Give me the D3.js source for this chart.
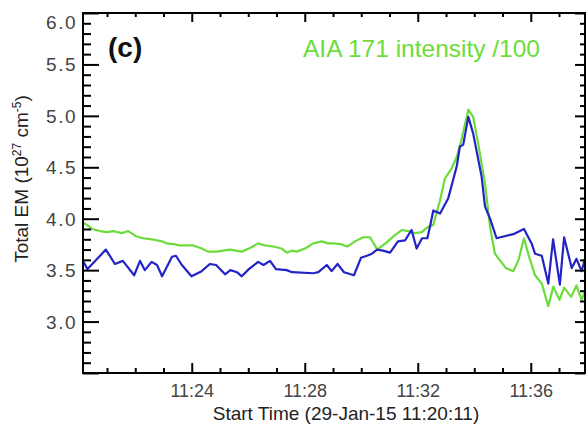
<!DOCTYPE html>
<html>
<head>
<meta charset="utf-8">
<script src="https://cdn.jsdelivr.net/npm/d3@7"></script>
<style>
  body { margin: 0; background: #fff; }
  svg { display: block; font-family: "Liberation Sans", Arial, Helvetica, sans-serif; }
  .axis path.domain { display: none; }
  .axis line { stroke: #000; stroke-width: 2; }
  .axis text { fill: #444; font-size: 18px; }
  .y-labels text { font-size: 19px; letter-spacing: 1.5px; }
</style>
</head>
<body>
<div id="chart"></div>
<script>
// Time in minutes after 11:20:00, values in 10^27 cm^-5
const emTime = [0.17, 0.31, 0.96, 1.28, 1.56, 1.96, 2.17, 2.34, 2.58, 2.77, 2.95, 3.30, 3.44, 3.65, 3.99,
  4.35, 4.64, 4.86, 5.18, 5.37, 5.60, 5.77, 6.02, 6.35, 6.54, 6.77, 6.98, 7.36, 7.55, 8.30, 8.48, 8.78,
  8.95, 9.16, 9.39, 9.74, 9.99, 10.20, 10.38, 10.56, 10.77, 11.02, 11.30, 11.55, 11.78, 11.96, 12.15,
  12.34, 12.43, 12.55, 12.79, 13.08, 13.38, 13.49, 13.61, 13.79, 13.96, 14.26, 14.38, 14.56, 14.79,
  15.38, 15.76, 16.03, 16.15, 16.39, 16.62, 16.79, 17.03, 17.18, 17.45, 17.62, 17.80, 17.92];
const emValues = [3.58, 3.51, 3.70, 3.56, 3.59, 3.45, 3.59, 3.50, 3.58, 3.55, 3.44, 3.63, 3.64, 3.55, 3.44,
  3.49, 3.56, 3.55, 3.46, 3.50, 3.48, 3.44, 3.51, 3.58, 3.55, 3.59, 3.51, 3.50, 3.48, 3.47, 3.48, 3.55,
  3.49, 3.56, 3.48, 3.45, 3.62, 3.64, 3.66, 3.70, 3.69, 3.67, 3.78, 3.79, 3.89, 3.71, 3.81,
  3.81, 3.92, 4.08, 4.05, 4.20, 4.51, 4.70, 4.72, 4.99, 4.83, 4.41, 4.12, 4.00, 3.81,
  3.85, 3.90, 3.76, 3.66, 3.64, 3.37, 3.80, 3.36, 3.82, 3.52, 3.61, 3.49, 3.61];

const aiaTime = [0.17, 0.34, 0.47, 0.75, 0.99, 1.22, 1.52, 1.75, 2.02, 2.28, 2.58, 2.95, 3.12, 3.41, 3.58,
  4.05, 4.35, 4.58, 4.88, 5.35, 5.77, 6.10, 6.35, 6.59, 6.88, 7.18, 7.37, 7.55, 7.72, 8.01, 8.30, 8.60,
  8.83, 9.03, 9.31, 9.51, 9.78, 10.07, 10.31, 10.57, 10.90, 11.19, 11.43, 11.66, 11.90, 12.14, 12.36,
  12.55, 12.79, 12.96, 13.20, 13.38, 13.55, 13.79, 13.96, 14.14, 14.38, 14.56, 14.73, 15.12, 15.38,
  15.57, 15.76, 15.92, 16.15, 16.39, 16.62, 16.80, 17.02, 17.18, 17.43, 17.62, 17.80, 17.92];
const aiaValues = [3.96, 3.93, 3.90, 3.88, 3.87, 3.88, 3.86, 3.88, 3.83, 3.81, 3.80, 3.78, 3.76, 3.75, 3.74,
  3.74, 3.71, 3.68, 3.68, 3.70, 3.68, 3.72, 3.76, 3.74, 3.73, 3.71, 3.67, 3.69, 3.68, 3.71, 3.76, 3.78,
  3.76, 3.76, 3.75, 3.73, 3.78, 3.82, 3.82, 3.70, 3.77, 3.84, 3.89, 3.88, 3.86, 3.87, 3.92,
  3.94, 4.18, 4.39, 4.49, 4.60, 4.77, 5.06, 4.99, 4.73, 4.34, 3.92, 3.66, 3.52, 3.49,
  3.60, 3.81, 3.65, 3.45, 3.37, 3.15, 3.34, 3.21, 3.33, 3.24, 3.35, 3.21, 3.29];

// Axis ticks
const xMajor = [4, 8, 12, 16];
const xTickLabels = ["11:24", "11:28", "11:32", "11:36"];
const xMinor = [1, 2, 3, 5, 6, 7, 9, 10, 11, 13, 14, 15, 17];
const yMajor = [2.5, 3.0, 3.5, 4.0, 4.5, 5.0, 5.5, 6.0];
const yMinor = [2.6, 2.7, 2.8, 2.9, 3.1, 3.2, 3.3, 3.4, 3.6, 3.7, 3.8, 3.9, 4.1, 4.2, 4.3, 4.4,
  4.6, 4.7, 4.8, 4.9, 5.1, 5.2, 5.3, 5.4, 5.6, 5.7, 5.8, 5.9];

const margin = {top: 13, right: 2, bottom: 51, left: 83};
const width = 587 - margin.left - margin.right;
const height = 424 - margin.top - margin.bottom;

const svg = d3.select("#chart")
  .append("svg")
  .attr("width", 587)
  .attr("height", 424);

const g = svg.append("g")
  .attr("transform", `translate(${margin.left},${margin.top})`);

const x = d3.scaleLinear().domain([0.15, 17.92]).range([0, width]);
const y = d3.scaleLinear().domain([2.5, 6.0]).range([height, 0]);

// Clip for the series
g.append("clipPath").attr("id", "plot-clip")
  .append("rect").attr("width", width).attr("height", height);

// Lines
const line = d3.line()
  .x(d => x(d[0]))
  .y(d => y(d[1]));

const plot = g.append("g").attr("clip-path", "url(#plot-clip)");

plot.append("path")
  .datum(aiaTime.map((t, i) => [t, aiaValues[i]]))
  .attr("fill", "none")
  .attr("stroke", "#6cdc3a")
  .attr("stroke-width", 2.2)
  .attr("stroke-linejoin", "round")
  .attr("d", line);

plot.append("path")
  .datum(emTime.map((t, i) => [t, emValues[i]]))
  .attr("fill", "none")
  .attr("stroke", "#2323c8")
  .attr("stroke-width", 2.2)
  .attr("stroke-linejoin", "round")
  .attr("d", line);

// Left axis
g.append("g").attr("class", "axis y-labels")
  .call(d3.axisLeft(y).tickValues(yMajor).tickSize(-16).tickPadding(6)
    .tickFormat(d => d === 2.5 ? "" : d3.format(".1f")(d)))
  .selectAll("text")
  .attr("dy", d => d === 6.0 ? "0.8em" : "0.34em");

g.append("g").attr("class", "axis")
  .call(d3.axisLeft(y).tickValues(yMinor).tickSize(-8).tickFormat(""));

// Right axis
g.append("g").attr("class", "axis")
  .attr("transform", `translate(${width},0)`)
  .call(d3.axisRight(y).tickValues(yMajor).tickSize(-10).tickFormat(""));

g.append("g").attr("class", "axis")
  .attr("transform", `translate(${width},0)`)
  .call(d3.axisRight(y).tickValues(yMinor).tickSize(-5).tickFormat(""));

// Bottom axis
g.append("g").attr("class", "axis")
  .attr("transform", `translate(0,${height})`)
  .call(d3.axisBottom(x).tickValues(xMajor).tickSize(-10).tickPadding(11)
    .tickFormat((d, i) => xTickLabels[i]));

g.append("g").attr("class", "axis")
  .attr("transform", `translate(0,${height})`)
  .call(d3.axisBottom(x).tickValues(xMinor).tickSize(-5).tickFormat(""));

// Top axis
g.append("g").attr("class", "axis")
  .call(d3.axisTop(x).tickValues(xMajor).tickSize(-9).tickFormat(""));

g.append("g").attr("class", "axis")
  .call(d3.axisTop(x).tickValues(xMinor).tickSize(-4).tickFormat(""));

// Frame
g.append("rect")
  .attr("width", width)
  .attr("height", height)
  .attr("fill", "none")
  .attr("stroke", "#000")
  .attr("stroke-width", 2);

// Axis titles
svg.append("text")
  .attr("x", 346)
  .attr("y", 420)
  .attr("text-anchor", "middle")
  .style("font-size", "19px")
  .style("fill", "#222")
  .text("Start Time (29-Jan-15 11:20:11)");

const yTitle = svg.append("text")
  .attr("transform", "translate(28,179) rotate(-90)")
  .attr("text-anchor", "middle")
  .style("font-size", "19px")
  .style("fill", "#222");
yTitle.append("tspan").text("Total EM (10");
yTitle.append("tspan").attr("dy", -7).style("font-size", "12px").text("27");
yTitle.append("tspan").attr("dy", 7).text(" cm");
yTitle.append("tspan").attr("dy", -7).style("font-size", "12px").text("-5");
yTitle.append("tspan").attr("dy", 7).text(")");

// Panel label and legend text
svg.append("text")
  .attr("x", 108)
  .attr("y", 57)
  .style("font-size", "28px")
  .style("font-weight", "bold")
  .style("fill", "#111")
  .text("(c)");

svg.append("text")
  .attr("x", 303)
  .attr("y", 57)
  .style("font-size", "24.5px")
  .style("fill", "#6cdc3a")
  .text("AIA 171 intensity /100");
</script>
</body>
</html>
